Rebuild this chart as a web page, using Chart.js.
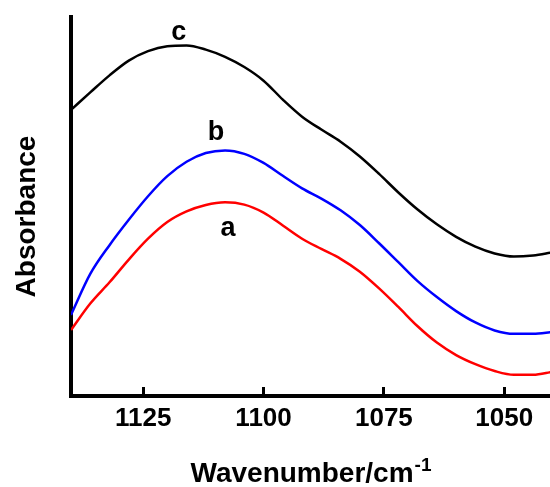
<!DOCTYPE html>
<html>
<head>
<meta charset="utf-8">
<script src="https://cdn.jsdelivr.net/npm/chart.js@4.4.0/dist/chart.umd.min.js"></script>
<style>
body { margin: 0; background: #fff; }
</style>
</head>
<body>
<canvas id="myChart" width="550" height="487"></canvas>
<script>
// DONNEES DU SPECTRE

var wavenumbers = [1140, 1136, 1132, 1128, 1124, 1120, 1116, 1112, 1108, 1104, 1100, 1096, 1092,
    1088, 1084, 1080, 1076, 1072, 1068, 1064, 1060, 1056, 1052, 1048, 1044, 1040];

var absA = [0.174, 0.244, 0.300, 0.360, 0.415, 0.459, 0.487, 0.504, 0.511, 0.505, 0.484, 0.450, 0.415,
    0.388, 0.362, 0.328, 0.284, 0.235, 0.184, 0.141, 0.108, 0.084, 0.066, 0.056, 0.056, 0.064];

var absB = [0.214, 0.322, 0.398, 0.465, 0.527, 0.580, 0.618, 0.641, 0.648, 0.639, 0.615, 0.581, 0.548,
    0.521, 0.490, 0.451, 0.403, 0.353, 0.303, 0.261, 0.224, 0.194, 0.173, 0.164, 0.164, 0.169];

var absC = [0.755, 0.801, 0.846, 0.885, 0.910, 0.923, 0.925, 0.914, 0.895, 0.868, 0.832, 0.782, 0.737,
    0.703, 0.671, 0.632, 0.586, 0.537, 0.492, 0.453, 0.420, 0.394, 0.376, 0.368, 0.371, 0.379];

var tickValues = [1125, 1100, 1075, 1050];

// lettres posees sur les courbes
var curveNames = ["a", "b", "c"];
var labelX = [1107.4, 1109.9, 1117.6];
var labelY = [0.443, 0.694, 0.960];

function points(ys) {
    var pts = [];
    for (var i = 0; i < wavenumbers.length; i++) {
        pts.push({ x: wavenumbers[i], y: ys[i] });
    }
    return pts;
}

var FONT = "'Liberation Sans', Arial, sans-serif";

// LETTRES a, b, c ET TITRES DES AXES
var textPlugin = {
    id: 'textPlugin',
    afterDraw: function(chart) {
        var ctx = chart.ctx;
        var xs = chart.scales.x;
        var ys = chart.scales.y;
        var area = chart.chartArea;
        ctx.save();
        ctx.fillStyle = '#000';

        ctx.font = 'bold 27px ' + FONT;
        ctx.textAlign = 'center';
        ctx.textBaseline = 'middle';
        for (var i = 0; i < curveNames.length; i++) {
            ctx.fillText(curveNames[i], xs.getPixelForValue(labelX[i]), ys.getPixelForValue(labelY[i]));
        }

        // titre x avec exposant
        var main = 'Wavenumber/cm';
        var sup = '-1';
        ctx.textAlign = 'left';
        ctx.textBaseline = 'alphabetic';
        ctx.font = 'bold 28px ' + FONT;
        var wMain = ctx.measureText(main).width;
        ctx.font = 'bold 19px ' + FONT;
        var wSup = ctx.measureText(sup).width;
        var x0 = (area.left + area.right) / 2 - (wMain + wSup) / 2;
        var base = chart.height - 5;
        ctx.font = 'bold 28px ' + FONT;
        ctx.fillText(main, x0, base);
        ctx.font = 'bold 19px ' + FONT;
        ctx.fillText(sup, x0 + wMain + 1, base - 11);

        // titre y
        ctx.translate(35, (area.top + area.bottom) / 2 + 10);
        ctx.rotate(-Math.PI / 2);
        ctx.textAlign = 'center';
        ctx.font = 'bold 28px ' + FONT;
        ctx.fillText('Absorbance', 0, 0);
        ctx.restore();
    }
};

new Chart(document.getElementById("myChart"), {
    type: 'line',
    data: {
        datasets: [{
            label: 'a',
            data: points(absA),
            borderColor: '#ff0000',
            borderWidth: 2.5
        }, {
            label: 'b',
            data: points(absB),
            borderColor: '#0000ff',
            borderWidth: 2.5
        }, {
            label: 'c',
            data: points(absC),
            borderColor: '#000000',
            borderWidth: 2.5
        }]
    },
    options: {
        responsive: false,
        animation: false,
        layout: { padding: { top: 17, left: 0, right: 0, bottom: 0 } },
        elements: {
            point: { radius: 0 },
            line: { cubicInterpolationMode: 'monotone', fill: false }
        },
        plugins: {
            legend: { display: false },
            tooltip: { enabled: false }
        },
        scales: {
            x: {
                type: 'linear',
                reverse: true,
                min: 1040.5,
                max: 1140,
                afterBuildTicks: function(scale) {
                    scale.ticks = tickValues.map(function(v) { return { value: v }; });
                },
                afterFit: function(scale) { scale.height = 91; },
                border: { display: true, color: '#000', width: 4 },
                grid: {
                    display: true,
                    drawOnChartArea: false,
                    drawTicks: true,
                    tickLength: -9,
                    tickWidth: 3,
                    tickColor: '#000'
                },
                ticks: {
                    color: '#000',
                    font: { family: FONT, size: 26, weight: 'bold' },
                    padding: 16,
                    maxRotation: 0,
                    autoSkip: false,
                    callback: function(v) { return String(v); }
                }
            },
            y: {
                min: 0,
                max: 1,
                afterFit: function(scale) { scale.width = 71; },
                border: { display: true, color: '#000', width: 4 },
                grid: { display: false },
                ticks: { display: false }
            }
        }
    },
    plugins: [textPlugin]
});
</script>
</body>
</html>
